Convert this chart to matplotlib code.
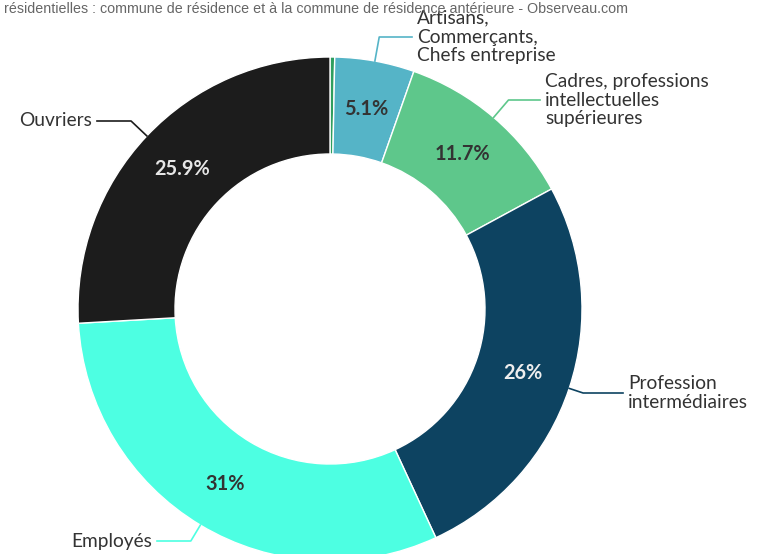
import numpy as np
import matplotlib
matplotlib.use("Agg")
import matplotlib.pyplot as plt

# data
categories = ["Agriculteurs", "Artisans,\nCommerçants,\nChefs entreprise",
              "Cadres, professions\nintellectuelles\nsupérieures",
              "Profession\nintermédiaires", "Employés", "Ouvriers"]
shares = [0.3, 5.1, 11.7, 26, 31, 25.9]
colors = ["#2f9e5e", "#55b4c7", "#5ec78b", "#0d4361", "#4dffe2", "#1c1c1c"]
pct_colors = [None, "#333333", "#333333", "#eeeeee", "#333333", "#e6e6e6"]
show_label = [False, True, True, True, True, True]

# layout in pixels (origin top-left)
W, H = 779, 554
cx, cy = 330, 309
R_OUT, R_IN = 252, 155
label_pos = [None, (417, 37, "left"), (545, 100, "left"), (628, 393, "left"),
             (152, 541, "right"), (92, 121, "right")]

FONT = "Lato"

fig = plt.figure(figsize=(W / 100, H / 100), dpi=100)
ax = fig.add_axes([0, 0, 1, 1])

wedges, _ = ax.pie(shares, colors=colors, startangle=90, counterclock=False,
                   radius=R_OUT, center=(cx, H - cy),
                   wedgeprops=dict(width=R_OUT - R_IN, edgecolor="white", linewidth=1))
ax.set_xlim(0, W)
ax.set_ylim(0, H)
ax.set_aspect("equal")
ax.axis("off")

r_mid = (R_OUT + R_IN) / 2
for w, v, cat, pc, show, lp in zip(wedges, shares, categories, pct_colors,
                                   show_label, label_pos):
    if not show:
        continue
    ang = np.deg2rad((w.theta1 + w.theta2) / 2)
    dx, dy = np.cos(ang), np.sin(ang)
    ax.text(cx + r_mid * dx, H - cy + r_mid * dy, f"{v:g}%", ha="center",
            va="center", fontsize=14.3, fontweight="bold", color=pc, family=FONT)
    # connector
    ax0, ay0 = cx + R_OUT * dx, H - cy + R_OUT * dy
    lx, ly, ha = lp
    ly = H - ly
    t = (ly - ay0) / dy if abs(dy) > 0.05 else 10
    ex, ey = ax0 + t * dx, ly
    endx = lx - 5 if ha == "left" else lx + 5
    ax.plot([ax0, ex, endx], [ay0, ey, ly], color=w.get_facecolor(), lw=1.2,
            solid_joinstyle="round")
    ax.text(lx, ly, cat, ha=ha, va="center", fontsize=13.8, color="#333333",
            family=FONT, linespacing=1.12)

fig.text(4 / W, 1 - 9 / H,
         "résidentielles : commune de résidence et à la commune de résidence antérieure - Observeau.com",
         ha="left", va="center", fontsize=10.3, color="#666666", family="Liberation Sans")

fig.savefig("out.png", dpi=100)
